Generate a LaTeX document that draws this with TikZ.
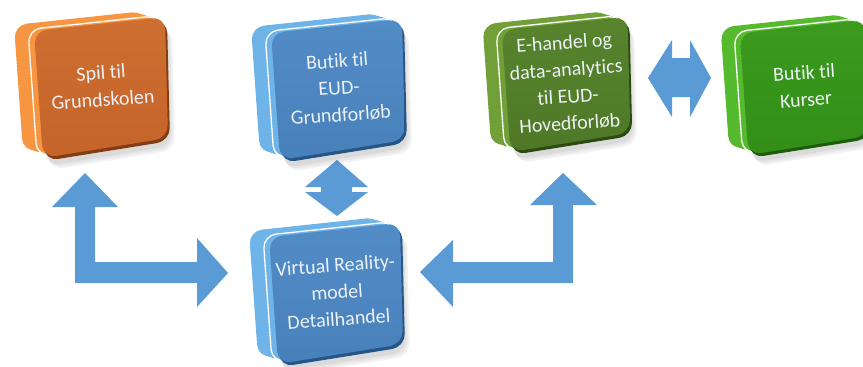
\documentclass[tikz,border=0pt]{standalone}
\usepackage{fontspec}
\setmainfont{Carlito}[Ligatures={NoCommon}]

\definecolor{arrowblue}{RGB}{91,155,213}
\definecolor{boxlabel}{RGB}{236,241,246}
% orange slab
\definecolor{orSide}{RGB}{246,150,66}
\definecolor{orFront}{RGB}{196,100,42}
\definecolor{orTop}{RGB}{206,110,48}
\definecolor{orDark}{RGB}{130,62,18}
% blue slabs
\definecolor{blSide}{RGB}{110,180,232}
\definecolor{blFront}{RGB}{72,128,186}
\definecolor{blTop}{RGB}{82,140,198}
\definecolor{blDark}{RGB}{38,86,136}
% dark green slab
\definecolor{dgSide}{RGB}{112,160,55}
\definecolor{dgFront}{RGB}{78,120,38}
\definecolor{dgTop}{RGB}{88,132,46}
\definecolor{dgDark}{RGB}{44,74,18}
% bright green slab
\definecolor{bgSide}{RGB}{86,186,46}
\definecolor{bgFront}{RGB}{50,142,24}
\definecolor{bgTop}{RGB}{60,154,30}
\definecolor{bgDark}{RGB}{28,92,10}

\tikzset{
  blockarrow/.style={fill=arrowblue},
  boxtext/.style={text=boxlabel, font=\fontsize{20}{27}\selectfont,
    align=center, rotate=4, inner sep=0pt},
}

% front face of a slab, around its centre
\newcommand\slabquad{(-68,-55) -- (63,-69) -- (66,52) -- (-59,72) -- cycle}

% #1 name, #2 x, #3 y, #4 scale, #5 colour prefix, #6 label
\newcommand\slabbox[6]{%
  \begin{scope}[shift={(#2,#3)}, scale=#4, rounded corners=13pt]
    \foreach \s in {0,1,2}
      \fill[black, opacity=0.05, shift={(3+2*\s,8+2*\s)}] \slabquad;
    \foreach \t in {0,0.1,...,1.01}
      \fill[#5Side, shift={(-20*\t,-6*\t)}] \slabquad;
    \draw[white, line width=1.3pt, shift={(-6,-1.5)}] \slabquad;
    \fill[#5Dark, shift={(2,3)}] \slabquad;
    \shade[top color=#5Top, bottom color=#5Front] \slabquad;
    \node[boxtext] (#1) at (0,0) {#6};
  \end{scope}}

\begin{document}
\begin{tikzpicture}[x=1pt, y=-1pt]
  \useasboundingbox (0,0) rectangle (863,367);

  % block arrows
  \fill[blockarrow] (85,173) -- (118,207) -- (95,207) -- (95,262) -- (197,262)
    -- (197,238) -- (228,273) -- (197,307) -- (197,283) -- (75,283) -- (75,207)
    -- (52,207) -- cycle;
  \fill[blockarrow] (563,173) -- (597,205) -- (573,205) -- (573,283) -- (453,283)
    -- (453,307) -- (420,272) -- (453,240) -- (453,262) -- (553,262) -- (553,205)
    -- (530,205) -- cycle;
  \fill[blockarrow] (337,160) -- (368,187) -- (352,187) -- (352,192) -- (368,192)
    -- (337,216) -- (305,192) -- (321,192) -- (321,187) -- (305,187) -- cycle;
  \fill[blockarrow] (648,78) -- (672,40) -- (672,58) -- (690,58) -- (690,40)
    -- (711,78) -- (690,117) -- (690,97) -- (672,97) -- (672,117) -- cycle;

  % slabs
  \slabbox{spil}{102}{86}{1}{or}{Spil til\\Grundskolen}
  \slabbox{butik}{339}{88}{1}{bl}{Butik til\\EUD-\\Grundforløb}
  \slabbox{ehandel}{567}{83}{0.96}{dg}{E-handel og\\data-analytics\\til EUD-\\Hovedforløb}
  \slabbox{kurser}{805}{86}{0.96}{bg}{Butik til\\Kurser}
  \slabbox{vr}{337}{292}{1}{bl}{Virtual Reality-\\model\\Detailhandel}
\end{tikzpicture}
\end{document}
